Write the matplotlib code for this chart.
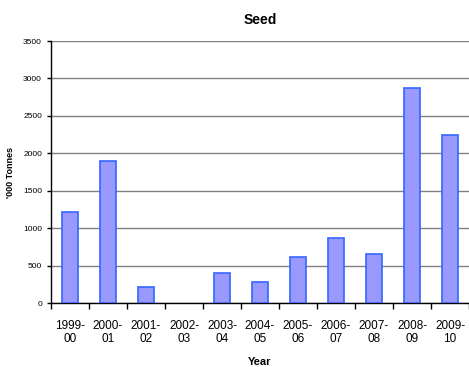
import numpy as np
import matplotlib
matplotlib.use("Agg")
import matplotlib.pyplot as plt

# Seed production by season ('000 tonnes)
years = ["1999-\n00", "2000-\n01", "2001-\n02", "2002-\n03", "2003-\n04", "2004-\n05",
         "2005-\n06", "2006-\n07", "2007-\n08", "2008-\n09", "2009-\n10"]
tonnes = [1210, 1895, 215, 0, 400, 280, 610, 875, 660, 2870, 2250]

plt.rcParams['font.family'] = ['Liberation Sans', 'DejaVu Sans']

fig = plt.figure(figsize=(4.69, 3.67), dpi=100)
ax = fig.add_axes([51/469, 1 - 303/367, 418/469, 262/367])

x = np.arange(len(years))
# no outline on empty seasons
edges = ['#3366FF' if v > 0 else 'none' for v in tonnes]
ax.bar(x, tonnes, width=0.42, color='#9999FF', edgecolor=edges, linewidth=1.2, zorder=3)

ax.set_xlim(-0.5, len(years) - 0.5)
ax.set_ylim(0, 3500)
ax.set_yticks(np.arange(0, 3501, 500))
ax.tick_params(axis='y', labelsize=6, length=3, width=1)
ax.set_xticks(np.arange(-0.5, len(years)), minor=False)
ax.set_xticklabels([])
ax.set_xticks(x, minor=True)
ax.set_xticklabels(years, minor=True, fontsize=8.5)
ax.tick_params(axis='x', which='major', length=4, width=1)
ax.tick_params(axis='x', which='minor', length=0, pad=12)

ax.yaxis.grid(True, color='#808080', linewidth=1, zorder=0)
ax.set_axisbelow(True)
for s in ['top', 'right']:
    ax.spines[s].set_visible(False)
ax.spines['left'].set_linewidth(1)
ax.spines['bottom'].set_linewidth(1)

ax.set_title("Seed", fontsize=10, fontweight='bold', pad=12)
ax.set_ylabel("'000 Tonnes", fontsize=6.5, fontweight='bold', labelpad=6)
ax.set_xlabel("Year", fontsize=8, fontweight='bold', labelpad=8)

fig.savefig("out.png", dpi=100)
